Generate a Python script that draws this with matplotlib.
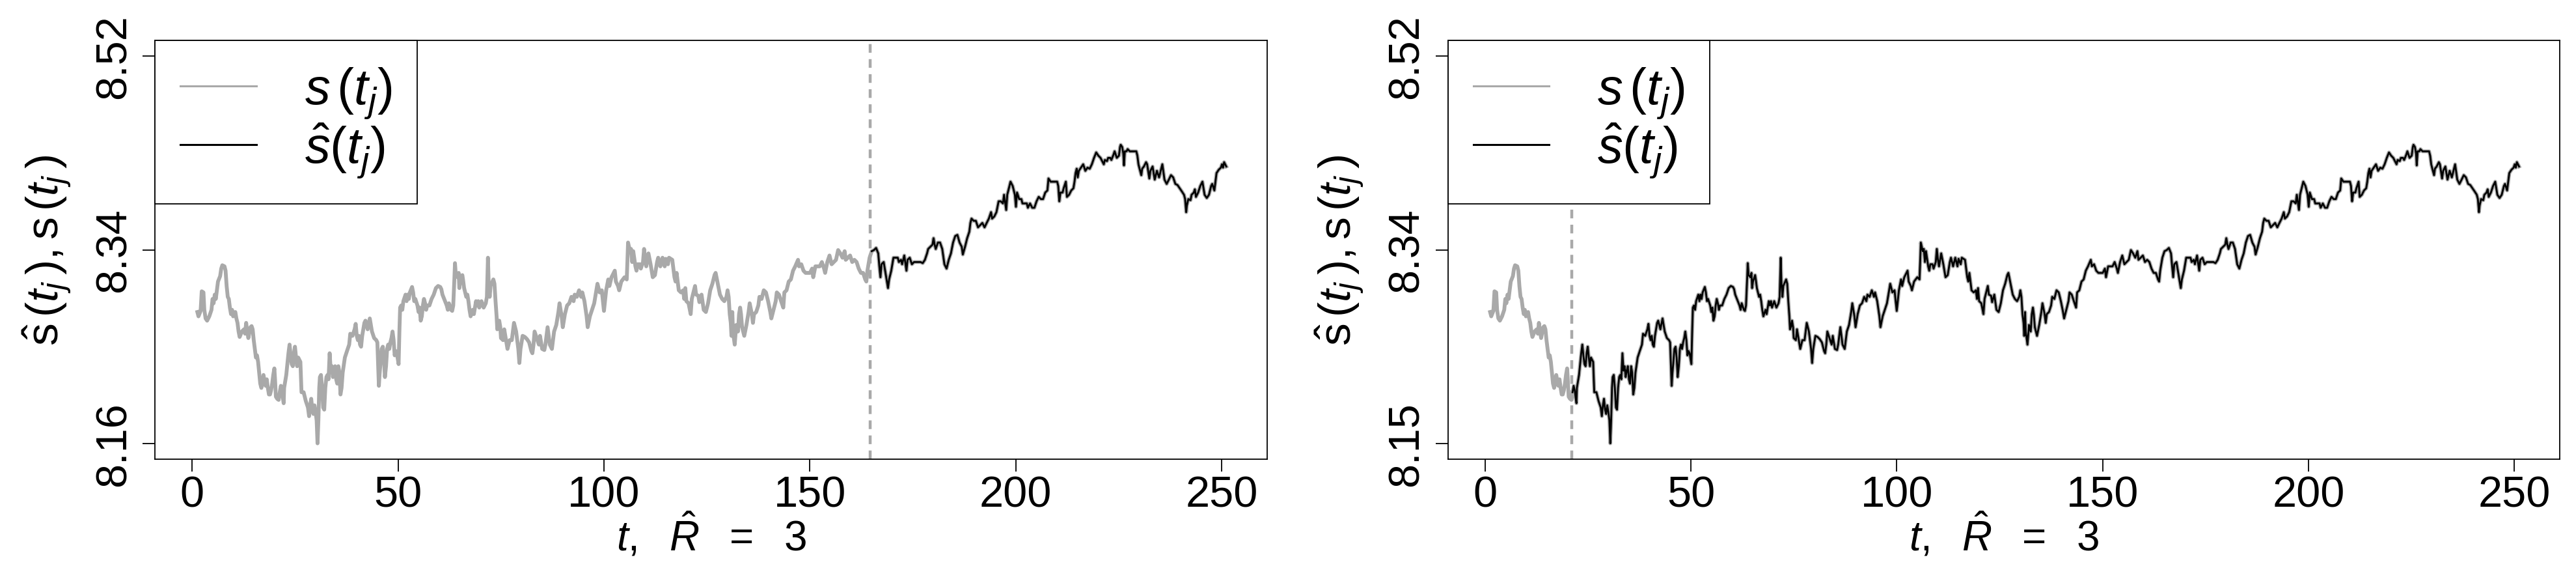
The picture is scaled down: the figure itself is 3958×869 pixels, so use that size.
import matplotlib
matplotlib.use('Agg')
import matplotlib.pyplot as plt
from matplotlib.lines import Line2D
import numpy as np

plt.rcParams['font.family'] = ['Liberation Sans', 'DejaVu Sans']
plt.rcParams['mathtext.fontset'] = 'custom'
plt.rcParams['mathtext.rm'] = 'Liberation Sans'
plt.rcParams['mathtext.it'] = 'Liberation Sans:italic'
plt.rcParams['mathtext.bf'] = 'Liberation Sans:bold'

t_obs = [
    1.25, 1.52, 2.04, 2.31, 2.73, 2.94, 3.25, 3.62, 4.15, 4.68, 4.94, 5.20, 5.47, 5.73, 5.99, 6.26,
    6.78, 7.05, 7.31, 7.84, 8.10, 8.36, 8.63, 8.89, 9.15, 9.42, 9.68, 9.94, 10.47, 10.73, 11.00, 11.26,
    11.52, 12.05, 12.57, 12.84, 13.10, 13.37, 13.63, 14.15, 14.42, 14.68, 14.94, 15.21, 15.47, 15.73,
    16.00, 16.26, 16.52, 16.79, 17.05, 17.31, 17.58, 17.84, 18.10, 18.37, 18.63, 18.89, 19.16, 19.42,
    19.68, 19.95, 20.11, 20.32, 20.64, 21.00, 21.26, 21.53, 21.79, 22.05, 22.21, 22.32, 22.84, 23.37,
    23.64, 23.90, 24.16, 24.43, 24.69, 24.95, 25.22, 25.48, 25.74, 26.27, 26.54, 27.06, 27.58, 28.11,
    28.38, 28.64, 28.90, 29.16, 29.43, 29.69, 29.96, 30.22, 30.43, 30.64, 30.85, 31.01, 31.27, 31.54,
    31.80, 32.06, 32.32, 32.59, 32.85, 33.11, 33.38, 33.64, 33.90, 34.17, 34.43, 34.69, 34.96, 35.22,
    35.49, 35.75, 36.01, 36.27, 36.54, 37.07, 37.59, 38.12, 38.38, 38.91, 39.44, 39.70, 39.96, 40.23,
    40.49, 40.75, 41.01, 41.28, 41.81, 42.07, 42.34, 42.60, 43.12, 43.38, 43.65, 44.18, 44.70, 44.96,
    45.33, 45.49, 45.75, 46.01, 46.28, 46.54, 46.80, 47.07, 47.33, 47.59, 47.86, 48.12, 48.39, 48.65,
    48.91, 49.17, 49.44, 49.70, 50.12, 50.33, 50.49, 50.75, 51.02, 51.28, 51.81, 52.07, 52.33, 52.60,
    52.86, 53.39, 53.65, 53.91, 54.18, 54.70, 54.97, 55.23, 55.49, 55.76, 56.02, 56.28, 56.55, 56.81,
    57.07, 57.60, 58.13, 58.65, 59.18, 59.71, 60.23, 60.50, 60.77,
    61.29, 61.81, 62.08, 62.34, 62.87, 63.13, 63.39, 63.66, 63.81, 64.02, 64.45, 64.71, 64.87, 65.08,
    65.60, 65.76, 66.03, 66.55, 66.82, 67.08, 67.34, 67.61, 68.13, 68.40, 68.92, 69.19, 69.45, 69.71,
    70.24, 70.77, 71.29, 71.56, 71.82, 71.98, 72.24, 72.45, 73.13, 73.40, 73.66, 73.92, 74.08, 74.35,
    74.56, 74.82, 74.98, 75.50, 75.77, 76.29, 76.56, 77.08, 77.61, 78.14, 78.66, 79.19, 79.45, 79.72,
    80.24, 80.77, 81.30, 81.82, 82.35, 82.61, 82.88, 83.14, 83.67, 84.19, 84.46, 84.98, 85.51, 85.77,
    86.30, 86.83, 87.35, 87.88, 88.41, 88.93, 89.20, 89.72, 89.99, 90.51, 91.04, 91.57, 92.09, 92.62,
    92.88, 93.41, 93.94, 94.46, 94.73, 95.25, 95.78, 96.04, 96.57, 97.09, 97.62, 98.15, 98.41, 98.94,
    99.46, 99.99, 100.52, 101.04, 101.31, 101.83, 102.62, 102.89, 103.41, 103.68, 104.20, 104.99,
    105.52, 105.68, 105.84, 106.31, 106.57, 106.84, 107.10, 107.63, 107.89, 108.15, 108.68, 108.94,
    109.47, 109.73, 110.00, 110.26, 110.79, 111.31, 111.84, 112.37, 112.89, 113.16, 113.68, 114.21,
    114.74, 115.00, 115.53, 115.79, 116.58, 117.11, 117.37, 117.63, 118.16, 118.69, 119.21, 119.48,
    119.74, 120.00, 120.53, 121.05, 121.32, 121.85, 122.11,
    122.37, 122.90, 123.16, 123.69, 124.21, 124.74, 125.27, 125.79, 126.32, 126.85, 127.11, 127.64,
    128.16, 128.69, 129.22, 129.74, 130.01, 130.27, 130.53, 130.79, 130.95, 131.16, 131.32, 131.74,
    131.95, 132.11, 132.53, 132.80, 133.06, 133.27, 133.53, 134.06, 134.59, 135.11, 135.38, 135.90,
    136.17, 136.43, 136.96, 137.48, 137.75, 138.27, 138.80, 139.33, 139.85, 140.38, 140.64, 141.17,
    141.70, 141.96, 142.49, 143.01, 143.54, 143.80, 144.33, 144.86, 145.38, 145.91, 146.44, 147.12,
    147.38, 147.91, 148.44, 148.96, 149.49, 150.02, 150.54, 150.81, 151.33, 151.86, 152.39, 152.91,
    153.44, 153.70, 154.23, 154.76, 155.28, 155.81, 156.34, 156.86, 157.39, 157.92, 158.44, 158.70,
    159.23, 159.76, 160.28, 160.81, 161.34, 161.86, 162.39, 162.92, 163.44, 163.71, 163.97, 164.50,
    165.02, 165.55, 166.08, 166.60, 166.87, 167.13, 167.39, 167.92, 168.45, 168.97, 169.24, 169.76,
    170.29, 170.82, 171.34, 171.61, 172.13, 172.40, 172.92, 173.45, 173.71, 174.24, 174.77, 175.29,
    175.82, 176.35, 176.87, 177.40, 177.93, 178.45, 178.72, 179.24, 179.77, 180.03, 180.29, 180.56,
    181.09, 181.61, 182.14, 182.67, 183.19, 183.72, 184.25, 184.77, 185.30,
    185.82, 186.35, 186.88, 187.14, 187.67, 188.19, 188.72, 188.98, 189.25, 189.77, 190.30, 190.83,
    191.35, 191.88, 192.41, 192.93, 193.46, 193.99, 194.25, 194.78, 195.30, 195.83, 196.36, 196.88,
    197.15, 197.67, 197.93, 198.46, 198.72, 199.25, 199.78, 200.04, 200.30, 200.83, 201.36, 201.62,
    202.15, 202.67, 202.94, 203.46, 203.99, 204.52, 205.04, 205.57, 206.10, 206.62, 207.15, 207.68,
    207.94, 208.47, 208.99, 209.52, 210.05, 210.31, 210.57, 210.84, 211.36, 211.63, 212.15, 212.42,
    212.94, 213.47, 214.00, 214.26, 214.52, 214.79, 215.05, 215.31, 215.84, 216.37, 216.89, 217.42,
    217.95, 218.47, 219.00, 219.53, 220.05, 220.58, 221.10, 221.37, 221.63, 222.16, 222.42, 222.95,
    223.21, 223.74, 224.00, 224.53, 225.05, 225.32, 225.48, 225.84, 226.11, 226.27, 226.48, 226.90,
    227.16, 227.69, 228.21, 228.74, 229.27, 229.53, 229.79, 230.06, 230.48, 230.69, 231.11, 231.64,
    231.90, 232.43, 232.69, 233.22, 233.74, 234.27, 234.80, 235.32, 235.59, 236.11, 236.64, 237.17,
    237.69, 238.22, 238.75, 239.27, 239.80, 240.33, 240.85, 241.12, 241.38, 241.54, 241.90, 242.43,
    242.69, 243.22, 243.49, 243.75, 244.28, 244.80, 245.33, 245.85, 246.38, 246.91, 247.44, 247.70,
    248.22, 248.75, 249.28, 249.80, 250.07, 250.33, 250.59, 251.12,
]
s_obs = [
    8.2785, 8.2746, 8.2795, 8.2972, 8.2962, 8.2805, 8.2727, 8.2707, 8.2746, 8.2805, 8.2903, 8.2864,
    8.2942, 8.2903, 8.2981, 8.3060, 8.3109, 8.3177, 8.3207, 8.3197, 8.3158, 8.3020, 8.2922, 8.2903,
    8.2825, 8.2766, 8.2805, 8.2746, 8.2785, 8.2727, 8.2687, 8.2609, 8.2560, 8.2609, 8.2629, 8.2589,
    8.2687, 8.2609, 8.2550, 8.2648, 8.2658, 8.2629, 8.2531, 8.2452, 8.2374, 8.2394, 8.2335, 8.2237,
    8.2139, 8.2100, 8.2139, 8.2217, 8.2158, 8.2119, 8.2178, 8.2100, 8.2041, 8.2041, 8.2080, 8.2139,
    8.2217, 8.2276, 8.2178, 8.2021, 8.2002, 8.1992, 8.2061, 8.2119, 8.2080, 8.2002, 8.1962, 8.2100,
    8.2217, 8.2413, 8.2491, 8.2394, 8.2315, 8.2296, 8.2413, 8.2472, 8.2374, 8.2296, 8.2374, 8.2335,
    8.2061, 8.2061, 8.1982, 8.1923, 8.1845, 8.1943, 8.2002, 8.1904, 8.1865, 8.1943, 8.1884, 8.1806,
    8.1600, 8.1806, 8.2100, 8.2198, 8.2217, 8.2100, 8.1923, 8.1904, 8.2100, 8.2198, 8.2217, 8.2178,
    8.2413, 8.2256, 8.2296, 8.2198, 8.2256, 8.2296, 8.2178, 8.2139, 8.2296, 8.2237, 8.2041, 8.2100,
    8.2237, 8.2374, 8.2433, 8.2491, 8.2589, 8.2570, 8.2629, 8.2678, 8.2570, 8.2531, 8.2570, 8.2491,
    8.2472, 8.2570, 8.2687, 8.2707, 8.2668, 8.2629, 8.2727, 8.2668, 8.2609, 8.2550, 8.2531, 8.2511,
    8.2119, 8.2217, 8.2335, 8.2452, 8.2472, 8.2374, 8.2198, 8.2296, 8.2452, 8.2491, 8.2452, 8.2511,
    8.2550, 8.2609, 8.2531, 8.2394, 8.2433, 8.2413, 8.2315, 8.2629, 8.2825, 8.2844, 8.2805, 8.2883,
    8.2942, 8.2883, 8.2942, 8.2903, 8.2962, 8.3011, 8.2962, 8.2883, 8.2903, 8.2844, 8.2785, 8.2825,
    8.2707, 8.2746, 8.2844, 8.2903, 8.2864, 8.2805, 8.2844, 8.2844, 8.2903, 8.2942, 8.3001, 8.3020,
    8.3011, 8.2991, 8.2942,
    8.2893, 8.2844, 8.2805, 8.2864, 8.2805, 8.2795, 8.2844, 8.3079, 8.3226, 8.3118, 8.3099, 8.3138,
    8.3001, 8.3060, 8.3118, 8.3079, 8.3001, 8.2922, 8.2942, 8.2883, 8.2805, 8.2746, 8.2805, 8.2766,
    8.2883, 8.2844, 8.2883, 8.2825, 8.2883, 8.2825, 8.2864, 8.2922, 8.3275, 8.3060, 8.2922, 8.3020,
    8.3079, 8.3040, 8.2883, 8.2746, 8.2629, 8.2658, 8.2707, 8.2648, 8.2550, 8.2531, 8.2629, 8.2511,
    8.2452, 8.2531, 8.2531, 8.2687, 8.2609, 8.2452, 8.2325, 8.2452, 8.2570, 8.2560, 8.2540, 8.2511,
    8.2433, 8.2413, 8.2491, 8.2609, 8.2550, 8.2491, 8.2570, 8.2452, 8.2442, 8.2491, 8.2648, 8.2491,
    8.2452, 8.2609, 8.2668, 8.2785, 8.2864, 8.2746, 8.2648, 8.2766, 8.2844, 8.2864, 8.2922, 8.2883,
    8.2942, 8.2922, 8.2981, 8.2922, 8.2962, 8.2883, 8.2746, 8.2648, 8.2746, 8.2805, 8.2864, 8.2981,
    8.3040, 8.2962, 8.2981, 8.2795, 8.2981, 8.3079, 8.3020, 8.3099, 8.3158, 8.3060, 8.3020, 8.2981,
    8.3060, 8.3099, 8.3079, 8.3236, 8.3412, 8.3334, 8.3354, 8.3236, 8.3334, 8.3197, 8.3158, 8.3216,
    8.3216, 8.3177, 8.3236, 8.3354, 8.3256, 8.3197, 8.3314, 8.3216, 8.3099, 8.3118, 8.3236, 8.3275,
    8.3197, 8.3275, 8.3197, 8.3265, 8.3216, 8.3275, 8.3256, 8.3099, 8.3060, 8.3138, 8.2981, 8.2962,
    8.2981, 8.2903, 8.3001, 8.2883, 8.2864, 8.2766, 8.2903, 8.2981, 8.3020,
    8.2942, 8.2932, 8.2874, 8.2942, 8.2805, 8.2785, 8.2864, 8.2981, 8.3040, 8.3119, 8.3138, 8.3040,
    8.2942, 8.2903, 8.2883, 8.2922, 8.2981, 8.2922, 8.2766, 8.2687, 8.2570, 8.2785, 8.2609, 8.2491,
    8.2589, 8.2668, 8.2609, 8.2766, 8.2825, 8.2766, 8.2648, 8.2570, 8.2668, 8.2785, 8.2864, 8.2766,
    8.2687, 8.2766, 8.2785, 8.2844, 8.2922, 8.2903, 8.2981, 8.2962, 8.2883, 8.2785, 8.2727, 8.2805,
    8.2883, 8.2962, 8.2942, 8.2883, 8.2825, 8.2962, 8.2981, 8.3060, 8.3079, 8.3158, 8.3197, 8.3256,
    8.3197, 8.3216, 8.3158, 8.3138, 8.3138, 8.3138, 8.3177, 8.3099, 8.3197, 8.3197, 8.3197, 8.3236,
    8.3177, 8.3138, 8.3236, 8.3295, 8.3216, 8.3236, 8.3256, 8.3344, 8.3314, 8.3275, 8.3334, 8.3256,
    8.3275, 8.3295, 8.3236, 8.3256, 8.3236, 8.3177, 8.3138, 8.3138, 8.3079, 8.3060, 8.3158, 8.3275,
    8.3334, 8.3344, 8.3363, 8.3314, 8.3197, 8.3099, 8.3216, 8.3236, 8.3118, 8.3001, 8.3079, 8.3158,
    8.3275, 8.3275, 8.3275, 8.3236, 8.3256, 8.3216, 8.3295, 8.3158, 8.3256, 8.3275, 8.3216, 8.3236,
    8.3236, 8.3236, 8.3236, 8.3226, 8.3256, 8.3314, 8.3354, 8.3373, 8.3393, 8.3451, 8.3393, 8.3354,
    8.3412, 8.3412, 8.3354, 8.3216, 8.3177, 8.3256, 8.3314, 8.3412, 8.3471,
    8.3481, 8.3412, 8.3373, 8.3304, 8.3373, 8.3451, 8.3510, 8.3589, 8.3628, 8.3608, 8.3608, 8.3549,
    8.3569, 8.3589, 8.3549, 8.3589, 8.3628, 8.3686, 8.3628, 8.3647, 8.3686, 8.3784, 8.3784, 8.3765,
    8.3843, 8.3706, 8.3843, 8.3922, 8.3961, 8.3922, 8.3843, 8.3735, 8.3863, 8.3804, 8.3804, 8.3765,
    8.3765, 8.3765, 8.3726, 8.3765, 8.3726, 8.3726, 8.3784, 8.3824, 8.3804, 8.3804, 8.3863, 8.3882,
    8.3990, 8.3961, 8.3961, 8.3961, 8.3961, 8.3922, 8.3784, 8.3863, 8.3863, 8.3902, 8.3961, 8.3824,
    8.3843, 8.3882, 8.3902, 8.3961, 8.4039, 8.4078, 8.4000, 8.4059, 8.4088, 8.4118, 8.4059, 8.4088,
    8.4078, 8.4118, 8.4176, 8.4225, 8.4196, 8.4176, 8.4137, 8.4118, 8.4157, 8.4147, 8.4176, 8.4176,
    8.4157, 8.4206, 8.4235, 8.4176, 8.4196, 8.4274, 8.4294, 8.4274, 8.4215, 8.4108, 8.4235, 8.4235,
    8.4255, 8.4235, 8.4235, 8.4235, 8.4235, 8.4196, 8.4118, 8.4078, 8.4020, 8.4078, 8.4098, 8.4137,
    8.4118, 8.3990, 8.4059, 8.4098, 8.3980, 8.4059, 8.4000, 8.4078, 8.4118, 8.3980, 8.3941, 8.3980,
    8.4020, 8.4000, 8.3941, 8.3931, 8.3902, 8.3873, 8.3843, 8.3804, 8.3686, 8.3745, 8.3804, 8.3794,
    8.3843, 8.3863, 8.3892, 8.3824, 8.3863, 8.3922, 8.3961, 8.3843, 8.3814, 8.3843, 8.3922, 8.3941,
    8.3882, 8.4039, 8.4069, 8.4088, 8.4118, 8.4088, 8.4137, 8.4098,
]
# the estimate follows the observations so closely that the two coincide at this scale
s_hat = s_obs

t_cut = [164.7, 21.15]        # start of the estimated part, one per panel
x_ticks = [0, 50, 100, 150, 200, 250]
y_ticks = [8.1596, 8.3346, 8.5097]
y_tick_text = [['8.16', '8.34', '8.52'], ['8.15', '8.34', '8.52']]

GRAY = '#a9a9a9'

t_obs = np.array(t_obs)
s_obs = np.array(s_obs)
s_hat = np.array(s_hat)

fig = plt.figure(figsize=(39.58, 8.7), dpi=100)
lefts = [0.06023, 0.56208]

for k in range(2):
    ax = fig.add_axes([lefts[k], 0.18851, 0.43161, 0.73942])
    ax.plot(t_obs, s_obs, color=GRAY, lw=4.2, solid_joinstyle='round', zorder=2)
    keep = t_obs >= t_cut[k]
    ax.plot(t_obs[keep], s_hat[keep], color='black', lw=2.0, solid_joinstyle='round', zorder=3)
    ax.axvline(t_cut[k], color=GRAY, lw=3.2, linestyle=(0, (3.0, 2.2)), zorder=1)

    ax.set_xlim(-9, 261)
    ax.set_ylim(8.1457, 8.5238)
    ax.set_xticks(x_ticks)
    ax.set_yticks(y_ticks)
    ax.set_yticklabels(y_tick_text[k])
    for lbl in ax.get_yticklabels():
        lbl.set_rotation(90)
        lbl.set_va('center')
        lbl.set_ha('right')
    ax.tick_params(length=14, width=1.3, labelsize=48, direction='out')
    ax.tick_params(axis='x', pad=3.4)
    ax.tick_params(axis='y', pad=9)
    for sp in ax.spines.values():
        sp.set_linewidth(1.3)

    ax.set_xlabel(r'$t,\ \ \hat{R}\ \ =\ \ 3$', fontsize=46)
    ax.xaxis.set_label_coords(0.5, -0.2161)
    ax.xaxis.label.set_va('baseline')
    ax.set_ylabel(r'$\hat{\mathrm{s}}\,(t_j\,),\mathrm{s}\,(t_j\,)$', fontsize=50)
    ax.yaxis.set_label_coords(-0.0869, 0.5)
    ax.yaxis.label.set_va('baseline')

    handles = [Line2D([], [], color=GRAY, lw=2.2), Line2D([], [], color='black', lw=2.2)]
    leg = ax.legend(handles, [r'$s\,(t_j)$', r'$\hat{s}(t_j)$'], loc='upper left',
                    bbox_to_anchor=(0, 1), borderaxespad=0, fontsize=56, fancybox=False,
                    edgecolor='black', framealpha=1, handlelength=1.5, handletextpad=0.95,
                    borderpad=0.5, labelspacing=0.0)
    leg.get_frame().set_linewidth(1.3)

fig.savefig('out.png', dpi=100, facecolor='white')
